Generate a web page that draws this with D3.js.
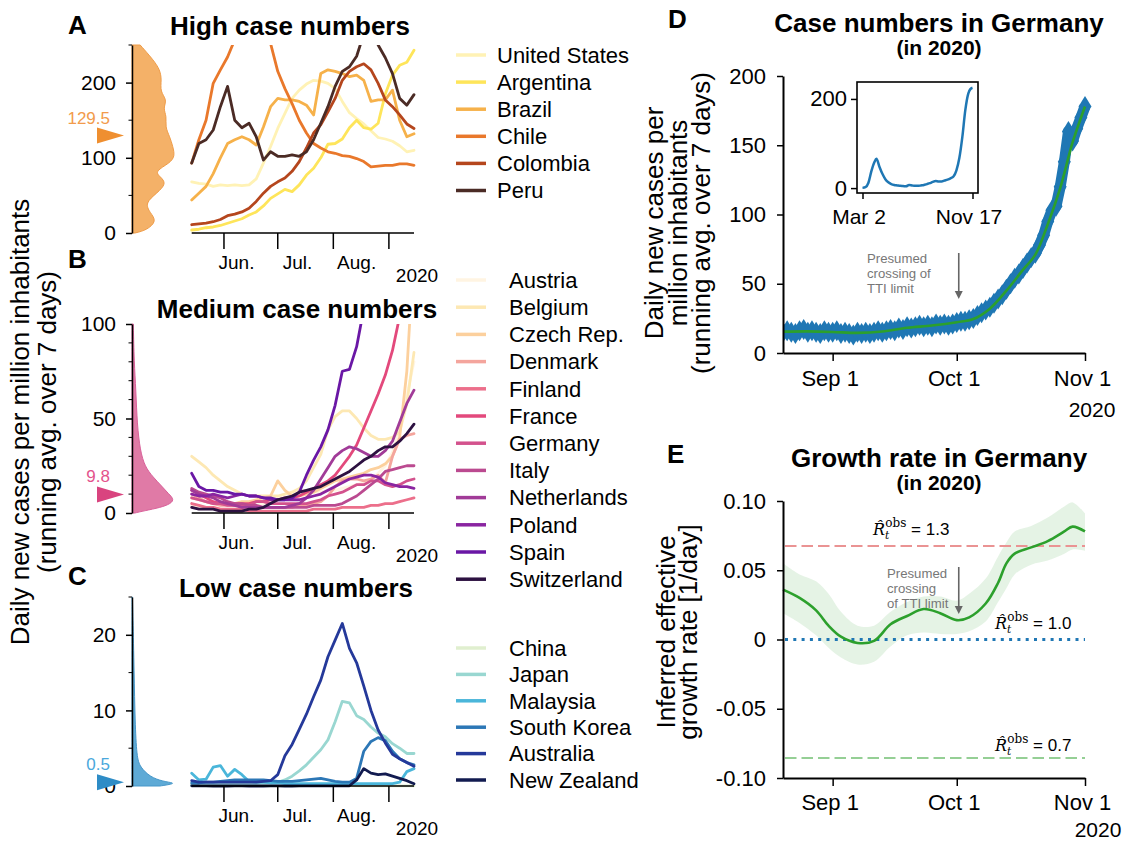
<!DOCTYPE html>
<html>
<head>
<meta charset="utf-8">
<script src="https://cdn.jsdelivr.net/npm/d3@7/dist/d3.min.js"></script>
<style>
html,body{margin:0;padding:0;background:#fff;}
svg{display:block;}
</style>
</head>
<body>
<svg id="chart" width="1125" height="842"></svg>
<script>
// ======================= DATA =======================
// Panels A-C: dates (every 4 days), 2020
const lineDates = ["2020-05-14","2020-05-18","2020-05-22","2020-05-26","2020-05-30","2020-06-03","2020-06-07","2020-06-11","2020-06-15","2020-06-19","2020-06-23","2020-06-27","2020-07-01","2020-07-05","2020-07-09","2020-07-13","2020-07-17","2020-07-21","2020-07-25","2020-07-29","2020-08-02","2020-08-06","2020-08-10","2020-08-14","2020-08-18","2020-08-22","2020-08-26","2020-08-30","2020-09-03","2020-09-07","2020-09-11","2020-09-15"];
const monthTickDates = ["2020-06-01","2020-07-01","2020-08-01","2020-09-01"];
const monthLabels = ["Jun.","Jul.","Aug."];
const monthLabelDates = ["2020-06-08","2020-07-12","2020-08-14"];

const highCountries = ["United States","Argentina","Brazil","Chile","Colombia","Peru"];
const highColors = ["#fff2b5","#fee55a","#f6b14a","#e9782b","#b5461d","#4b2b25"];
const highValues = [
  [68,66,65,62,64,63,64,63,64,72,93,115,139,159,179,190,198,203,202,199,192,175,160,152,145,136,127,125,122,116,108,110],
  [4,5,7,8,10,13,16,19,24,28,36,46,52,58,55,64,77,86,100,118,119,125,140,150,140,138,146,185,210,223,227,243],
  [44,53,62,79,100,119,124,128,124,117,141,168,179,177,177,175,170,157,212,217,215,212,208,210,203,175,177,177,190,150,128,132],
  [93,124,150,199,217,234,257,290,320,320,290,252,215,192,172,150,133,119,113,108,106,103,102,99,95,88,89,90,90,92,92,90],
  [11,12,13,15,18,23,25,28,33,42,53,62,68,73,82,95,113,133,144,161,179,203,215,221,225,217,199,177,168,157,145,139],
  [93,119,124,137,168,195,150,140,146,128,97,108,102,102,104,102,108,124,146,168,195,215,221,235,265,280,250,233,212,179,170,184]
];
const highDensityValues = [0,4,16,27,40,53,66,75,82,93,102,115,128,141,155,166,177,188,204,217,230,250];
const highDensityLevels = [0.07,0.35,0.58,0.42,0.3,0.58,0.81,0.65,0.53,0.88,1.0,0.95,0.88,0.77,0.81,0.72,0.82,0.65,0.69,0.65,0.5,0.19];
const highMedian = 129.5;

const mediumCountries = ["Austria","Belgium","Czech Rep.","Denmark","Finland","France","Germany","Italy","Netherlands","Poland","Spain","Switzerland"];
const mediumColors = ["#fff4e2","#fde8b3","#fcd09d","#f4a59d","#ec6f8b","#e3497c","#d3528d","#bb4a90","#a13b98","#8a25a1","#6a17a5","#2d1141"];
const mediumValues = [
  [4,3,3,3,2,2,2,3,3,4,5,6,8,10,11,12,12,11,11,12,12,13,14,15,16,18,21,25,32,45,62,80],
  [30,27,24,20,17,14,12,10,9,9,9,9,9,10,11,13,17,24,31,44,51,54,54,50,45,41,39,39,40,43,58,85],
  [8,7,6,5,5,5,5,6,6,7,8,9,17,12,9,9,10,11,13,15,17,18,19,20,21,23,24,26,30,40,75,140],
  [10,8,6,5,4,4,4,4,3,3,3,3,3,3,3,4,4,5,6,9,14,17,18,18,17,18,20,16,30,39,41,42],
  [5,4,3,3,2,2,2,2,1,1,1,1,1,1,1,1,1,2,2,2,2,3,3,3,3,4,4,5,5,6,7,8],
  [12,10,8,6,5,5,5,5,5,6,6,7,7,8,8,9,11,13,15,17,20,25,30,36,45,54,63,73,86,104,125,150],
  [8,7,6,5,5,4,4,4,4,6,6,5,5,5,5,5,5,6,7,9,10,11,13,15,15,17,17,15,14,15,17,18],
  [13,11,10,9,8,6,5,5,4,4,3,3,3,3,3,3,3,4,4,4,4,5,7,9,12,15,18,22,23,24,25,25],
  [12,10,9,8,6,5,4,3,3,3,3,3,3,3,4,5,8,12,18,24,30,33,35,34,32,30,30,33,38,48,58,65],
  [10,9,9,10,9,8,9,10,9,9,8,7,7,7,7,7,8,9,10,12,14,16,18,19,20,20,19,16,15,14,14,13],
  [21,14,12,12,11,11,10,10,9,9,8,8,7,7,8,11,20,28,35,44,57,75,76,88,108,118,128,135,140,150,155,160],
  [3,2,2,2,1,1,1,1,2,2,3,5,7,8,9,11,12,13,14,16,18,20,22,25,28,30,33,35,35,38,42,47]
];
const mediumDensityValues = [0,0.7,2.5,4.2,6.9,10.4,14,19,24.5,33,47,65,80,100];
const mediumDensityLevels = [0.07,0.19,0.58,0.84,1.0,0.84,0.7,0.49,0.3,0.19,0.12,0.09,0.05,0.03];
const mediumMedian = 9.8;

const lowCountries = ["China","Japan","Malaysia","South Korea","Australia","New Zealand"];
const lowColors = ["#e0efcf","#99d7d1","#4ab6da","#2c77b6","#25399a","#121b50"];
const lowValues = [
  [0.05,0.04,0.03,0.03,0.02,0.02,0.02,0.03,0.04,0.05,0.04,0.03,0.02,0.02,0.02,0.03,0.05,0.07,0.08,0.08,0.07,0.06,0.04,0.03,0.03,0.02,0.02,0.02,0.02,0.02,0.02,0.02],
  [0.2,0.2,0.2,0.2,0.3,0.3,0.3,0.3,0.3,0.3,0.4,0.4,0.5,0.8,1.3,2.0,2.8,3.8,4.8,6.1,8.5,11.2,11.0,9.3,8.8,7.8,7.0,6.5,5.6,5.0,4.3,4.3],
  [1.7,0.8,0.9,2.5,2.7,1.3,2.2,1.5,0.6,0.5,0.5,0.4,0.4,0.3,0.3,0.3,0.3,0.3,0.3,0.3,0.3,0.3,0.3,0.3,0.3,0.3,0.3,0.3,0.3,0.5,1.9,2.3],
  [0.4,0.4,0.5,0.5,0.6,0.7,0.8,0.8,0.8,0.8,0.8,0.7,0.6,0.6,0.6,0.7,0.8,0.9,1.0,0.8,0.6,0.5,0.5,1.0,4.6,5.9,6.4,6.0,4.6,3.6,3.1,2.8],
  [0.7,0.5,0.5,0.5,0.5,0.5,0.5,0.5,0.5,0.5,0.6,0.7,1.5,4.0,5.5,7.5,9.5,11.8,14.0,17.1,19.3,21.5,18.2,16.3,13.2,10.0,7.4,5.7,4.2,3.6,3.1,2.6],
  [0.02,0.01,0.01,0,0,0,0.01,0.01,0,0,0,0.01,0.01,0,0,0.01,0.01,0.02,0.02,0.01,0.02,0.02,0.03,0.8,2.3,1.7,1.5,1.6,1.3,1.0,0.7,0.3]
];
const lowDensityValues = [0,0.2,0.4,0.6,1.2,2.5,3.8,8.6,15,22.8,25];
const lowDensityLevels = [0.65,0.88,1.0,0.72,0.42,0.19,0.11,0.07,0.05,0.02,0.01];
const lowMedian = 0.5;

// Panel D: daily cases Germany (per million, 7-day avg), Aug 20 - Nov 1 2020
const germanyDailyStart = "2020-08-20";
const germanyDaily = [15,16,15,14,16,17,15,16,15,14,16,15,
  15,16,14,15,14,13,15,14,15,14,15,16,15,16,17,16,18,17,19,18,19,20,19,20,19,21,20,21,20,21,
  22,23,23,24,25,27,29,31,33,36,39,42,46,50,54,57,61,65,69,72,78,85,95,103,106,120,138,160,153,162,170,
  178];
const germanySmoothDates = ["2020-08-20","2020-08-26","2020-09-01","2020-09-07","2020-09-13","2020-09-19","2020-09-25","2020-10-01","2020-10-05","2020-10-09","2020-10-13","2020-10-17","2020-10-20","2020-10-23","2020-10-26","2020-10-29","2020-11-01"];
const germanySmooth = [15.4,15.6,15.2,14.5,15.5,18.2,19.8,22.2,24.5,32,45,60,71,93,119,152,178];
const dTickDates = ["2020-09-01","2020-10-01","2020-11-01"];
const dTickLabels = ["Sep 1","Oct 1","Nov 1"];

// Inset: whole year
const insetDates = ["2020-03-02","2020-03-09","2020-03-16","2020-03-23","2020-03-30","2020-04-04","2020-04-11","2020-04-18","2020-04-25","2020-05-02","2020-05-09","2020-05-16","2020-05-23","2020-05-30","2020-06-06","2020-06-13","2020-06-20","2020-06-27","2020-07-04","2020-07-11","2020-07-18","2020-07-25","2020-08-01","2020-08-08","2020-08-15","2020-08-22","2020-08-29","2020-09-05","2020-09-12","2020-09-19","2020-09-26","2020-10-03","2020-10-10","2020-10-17","2020-10-24","2020-10-31","2020-11-07","2020-11-12","2020-11-17"];
const insetValues = [0.5,2,12,38,58,66,48,32,20,13,9,7,6,5,4.5,4,7,6,5,5,6,7,9,11,14,16,15,15,17,19,22,26,40,68,115,175,212,222,225];
const insetTickDates = ["2020-03-02","2020-11-17"];
const insetTickLabels = ["Mar 2","Nov 17"];

// Panel E: growth rate
const growthDates = ["2020-08-20","2020-08-24","2020-08-28","2020-08-31","2020-09-03","2020-09-07","2020-09-11","2020-09-15","2020-09-19","2020-09-23","2020-09-27","2020-10-01","2020-10-04","2020-10-08","2020-10-11","2020-10-13","2020-10-15","2020-10-19","2020-10-23","2020-10-27","2020-10-29","2020-11-01"];
const growthMid  = [0.036,0.030,0.021,0.010,0.002,-0.0025,-0.001,0.011,0.017,0.022,0.019,0.014,0.016,0.026,0.041,0.055,0.062,0.0665,0.071,0.078,0.0815,0.078];
const growthLow  = [0.019,0.012,0.003,-0.006,-0.013,-0.018,-0.016,-0.005,0.003,0.005,0.004,0.004,0.006,0.013,0.027,0.037,0.047,0.054,0.057,0.062,0.065,0.064];
const growthHigh = [0.055,0.047,0.042,0.033,0.020,0.010,0.010,0.020,0.027,0.031,0.031,0.028,0.033,0.044,0.060,0.070,0.078,0.082,0.088,0.096,0.099,0.091];
const rLevels = ["1.3","1.0","0.7"];
const rLevelRates = [0.0675, 0, -0.0855];
const eTicks = [-0.1,-0.05,0,0.05,0.1];
const ttiDate = "2020-10-01";

// ======================= DRAWING =======================
const parse = d3.timeParse("%Y-%m-%d");
const svg = d3.select("#chart");
const FONT = "'Liberation Sans', Arial, Helvetica, sans-serif";
svg.append("rect").attr("width",1125).attr("height",842).attr("fill","#fff");

function txt(x, y, s, o) {
  o = o || {};
  return svg.append("text").attr("x",x).attr("y",y).text(s)
    .attr("font-family", o.family || FONT)
    .attr("font-size", o.size || 20)
    .attr("font-weight", o.weight || "normal")
    .attr("fill", o.fill || "#000")
    .attr("text-anchor", o.anchor || "start");
}
function vlabel(x, y, lines, step, size) {
  const t = svg.append("text").attr("transform",`translate(${x},${y}) rotate(-90)`)
    .attr("text-anchor","middle").attr("font-family",FONT).attr("font-size",size).attr("fill","#000");
  lines.forEach((l,i)=>{ t.append("tspan").attr("x",0).attr("dy", i===0 ? 0 : step).text(l); });
  return t;
}
function styleAxis(ax, size, domainW) {
  ax.select(".domain").attr("stroke","#000").attr("stroke-width",domainW);
  ax.selectAll(".tick line").attr("stroke","#000").attr("stroke-width",1.5);
  ax.selectAll(".tick text").attr("font-family",FONT).attr("font-size",size).attr("fill","#000");
}

// ---------- Panels A-C ----------
const xLine = d3.scaleTime().domain([parse("2020-05-14"), parse("2020-09-15")]).range([191.7, 414]);
const lDates = lineDates.map(parse);

const groups = [
  {letter:"A", letterY:34, title:"High case numbers", titleX:290, titleY:35,
   names:highCountries, colors:highColors, values:highValues,
   yDomain:[0,250], yRange:[233,45], major:[0,100,200], minor:[50,150,250],
   dv:highDensityValues, dl:highDensityLevels, fill:"#f4b168", stroke:"#ef9c48",
   median:highMedian, medColor:"#ef8f30", medLabelColor:"#f29b4b", medLabel:"129.5",
   legX:497, legY0:55, legStep:27.1},
  {letter:"B", letterY:268, title:"Medium case numbers", titleX:297, titleY:318,
   names:mediumCountries, colors:mediumColors, values:mediumValues,
   yDomain:[0,100], yRange:[513,324], major:[0,50,100], minor:[10,20,30,40,60,70,80,90],
   dv:mediumDensityValues, dl:mediumDensityLevels, fill:"#e07aa6", stroke:"#d9609a",
   median:mediumMedian, medColor:"#d9447f", medLabelColor:"#e3538c", medLabel:"9.8",
   legX:509, legY0:280, legStep:27.2},
  {letter:"C", letterY:585, title:"Low case numbers", titleX:296, titleY:597,
   names:lowCountries, colors:lowColors, values:lowValues,
   yDomain:[0,25], yRange:[786,597], major:[0,10,20], minor:[5,15,25],
   dv:lowDensityValues, dl:lowDensityLevels, fill:"#5eaad6", stroke:"#4797c9",
   median:lowMedian, medColor:"#2e8cc6", medLabelColor:"#4aa8dc", medLabel:"0.5",
   legX:509, legY0:648, legStep:26.4}
];

groups.forEach((g, gi) => {
  const y = d3.scaleLinear().domain(g.yDomain).range(g.yRange);
  const y0 = g.yRange[0], yTop = g.yRange[1];

  const dxs = d3.scaleLinear().domain([0,1]).range([132,175]);
  const pts = g.dv.map((v,i)=>[v, g.dl[i]]);
  const area = d3.area().curve(d3.curveBasis).y(d=>y(d[0])).x0(132).x1(d=>dxs(d[1]));
  svg.append("path").attr("d", area(pts)).attr("fill", g.fill).attr("stroke", g.stroke).attr("stroke-width",1);

  const ax = svg.append("g").attr("transform","translate(132,0)")
    .call(d3.axisLeft(y).tickValues(g.major).tickSize(6).tickPadding(10).tickSizeOuter(0));
  styleAxis(ax, 21, 1.5);
  svg.append("g").selectAll("line").data(g.minor).join("line")
    .attr("x1",128.5).attr("x2",132).attr("y1",d=>y(d)).attr("y2",d=>y(d))
    .attr("stroke","#000").attr("stroke-width",1);

  const my = y(g.median);
  svg.append("path").attr("d",`M97,${my-8}L124,${my}L97,${my+8}Z`).attr("fill",g.medColor);
  txt(110, my-12, g.medLabel, {size:17, fill:g.medLabelColor, anchor:"end"});

  const cid = "clipL"+gi;
  svg.append("clipPath").attr("id",cid).append("rect")
    .attr("x",190).attr("y",yTop).attr("width",226).attr("height",y0-yTop+3);
  const line = d3.line().x((d,i)=>xLine(lDates[i])).y(d=>y(d));
  const lg = svg.append("g").attr("clip-path",`url(#${cid})`);
  g.values.forEach((vals,i)=>{
    lg.append("path").attr("d",line(vals)).attr("fill","none")
      .attr("stroke",g.colors[i]).attr("stroke-width",2.8)
      .attr("stroke-linejoin","round").attr("stroke-linecap","round");
  });

  svg.append("line").attr("x1",191.7).attr("x2",414).attr("y1",y0).attr("y2",y0)
    .attr("stroke","#000").attr("stroke-width",1.5);
  monthTickDates.forEach(d=>{
    const xx = xLine(parse(d));
    svg.append("line").attr("x1",xx).attr("x2",xx).attr("y1",y0).attr("y2",y0+16)
      .attr("stroke","#000").attr("stroke-width",1.5);
  });
  monthLabels.forEach((m,i)=>{
    txt(xLine(parse(monthLabelDates[i])), y0+36, m, {size:19, anchor:"middle"});
  });
  txt(417, y0+49, "2020", {size:19, anchor:"middle"});

  txt(g.titleX, g.titleY, g.title, {size:26, weight:"bold", anchor:"middle"});
  txt(68, g.letterY, g.letter, {size:26, weight:"bold"});

  g.names.forEach((n,i)=>{
    const ly = g.legY0 + i*g.legStep;
    svg.append("line").attr("x1",456).attr("x2",486).attr("y1",ly).attr("y2",ly)
      .attr("stroke",g.colors[i]).attr("stroke-width",3.5);
    txt(g.legX, ly+7.8, n, {size:22});
  });
});

vlabel(29, 422, ["Daily new cases per million inhabitants","(running avg. over 7 days)"], 27, 26);

// ---------- Panel D ----------
const xDE = d3.scaleTime().domain([parse("2020-08-20"), parse("2020-11-01")]).range([783,1085]);
const yD = d3.scaleLinear().domain([0,200]).range([353,76]);
const dailyDates = d3.timeDay.range(parse(germanyDailyStart), d3.timeDay.offset(parse(germanyDailyStart), germanyDaily.length));

svg.append("clipPath").attr("id","clipD").append("rect").attr("x",784).attr("y",60).attr("width",320).attr("height",292);
const dg = svg.append("g").attr("clip-path","url(#clipD)");
dg.append("path").attr("d", d3.line().x((d,i)=>xDE(dailyDates[i])).y(d=>yD(d))(germanyDaily))
  .attr("fill","none").attr("stroke","#1f77b4").attr("stroke-width",11).attr("stroke-linejoin","round");
dg.selectAll("path.dm").data(germanyDaily).join("path").attr("class","dm")
  .attr("d",(d,i)=>{const cx=xDE(dailyDates[i]), cy=yD(d); return `M${cx},${cy-10.5}L${cx+6.5},${cy}L${cx},${cy+10.5}L${cx-6.5},${cy}Z`;})
  .attr("fill","#1f77b4");
dg.append("path").attr("d", d3.line().curve(d3.curveCatmullRom).x((d,i)=>xDE(parse(germanySmoothDates[i]))).y(d=>yD(d))(germanySmooth))
  .attr("fill","none").attr("stroke","#2ca02c").attr("stroke-width",2.6);

const axDL = svg.append("g").attr("transform","translate(783,0)")
  .call(d3.axisLeft(yD).tickValues([0,50,100,150,200]).tickSize(6).tickPadding(11).tickSizeOuter(0));
styleAxis(axDL, 22, 2);
const axDB = svg.append("g").attr("transform","translate(0,353)")
  .call(d3.axisBottom(xDE).tickValues(dTickDates.map(parse)).tickFormat((d,i)=>dTickLabels[i]).tickSize(8).tickPadding(9).tickSizeOuter(0));
styleAxis(axDB, 22, 2);
axDB.selectAll(".tick text").attr("dx",-3);
txt(1092, 417, "2020", {size:21, anchor:"middle"});

txt(939, 32, "Case numbers in Germany", {size:26, weight:"bold", anchor:"middle"});
txt(939, 55, "(in 2020)", {size:21, weight:"bold", anchor:"middle"});
txt(668, 28, "D", {size:26, weight:"bold"});
vlabel(663, 223, ["Daily new cases per","million inhabitants","(running avg. over 7 days)"], 23.5, 26);

function arrow(x, y1, y2) {
  svg.append("line").attr("x1",x).attr("x2",x).attr("y1",y1).attr("y2",y2-7)
    .attr("stroke","#666").attr("stroke-width",1.6);
  svg.append("path").attr("d",`M${x-4},${y2-8}L${x+4},${y2-8}L${x},${y2}Z`).attr("fill","#666");
}
const ttiX = xDE(parse(ttiDate)) + 2;
const annD = ["Presumed","crossing of","TTI limit"];
annD.forEach((s,i)=>txt(867, 263 + i*15, s, {size:13.2, fill:"#777"}));
arrow(ttiX, 253, 299);

// Inset
const xIn = d3.scaleTime().domain([parse("2020-02-18"), parse("2020-11-30")]).range([857,978]);
const yIn = d3.scaleLinear().domain([-11,238]).range([193,82]);
svg.append("rect").attr("x",857).attr("y",82).attr("width",121).attr("height",111)
  .attr("fill","#fff").attr("stroke","#000").attr("stroke-width",1.6);
svg.append("path").attr("d", d3.line().curve(d3.curveMonotoneX).x((d,i)=>xIn(parse(insetDates[i]))).y(d=>yIn(d))(insetValues))
  .attr("fill","none").attr("stroke","#1f77b4").attr("stroke-width",2.5);
const axIL = svg.append("g").attr("transform","translate(857,0)")
  .call(d3.axisLeft(yIn).tickValues([0,200]).tickSize(6).tickPadding(4).tickSizeOuter(0));
styleAxis(axIL, 22, 0);
axIL.select(".domain").remove();
const axIB = svg.append("g").attr("transform","translate(0,193)")
  .call(d3.axisBottom(xIn).tickValues(insetTickDates.map(parse)).tickFormat((d,i)=>insetTickLabels[i]).tickSize(6).tickPadding(10).tickSizeOuter(0));
styleAxis(axIB, 21, 0);
axIB.select(".domain").remove();
axIB.selectAll(".tick text").attr("dx",-4);

// ---------- Panel E ----------
const yE = d3.scaleLinear().domain([-0.1,0.1]).range([778,501]);
const gDates = growthDates.map(parse);
svg.append("path").attr("d", d3.area().curve(d3.curveCatmullRom).x((d,i)=>xDE(gDates[i])).y0((d,i)=>yE(growthLow[i])).y1(d=>yE(d))(growthHigh))
  .attr("fill","#2ca02c").attr("fill-opacity",0.12);
const hStyles = [
  {color:"#ea9393", dash:"11.5,5", w:2},
  {color:"#1f77b4", dash:"3,5.3", w:3},
  {color:"#95cf95", dash:"11.5,5", w:2}
];
rLevelRates.forEach((r,i)=>{
  svg.append("line").attr("x1",785).attr("x2",1085).attr("y1",yE(r)).attr("y2",yE(r))
    .attr("stroke",hStyles[i].color).attr("stroke-width",hStyles[i].w).attr("stroke-dasharray",hStyles[i].dash);
});
svg.append("path").attr("d", d3.line().curve(d3.curveCatmullRom).x((d,i)=>xDE(gDates[i])).y(d=>yE(d))(growthMid))
  .attr("fill","none").attr("stroke","#2ca02c").attr("stroke-width",2.6);

function rLabel(x, y, val) {
  const t = svg.append("text").attr("x",x).attr("y",y).attr("fill","#000").attr("font-size",17);
  t.append("tspan").attr("font-family","'DejaVu Serif', serif").attr("font-style","italic").attr("font-size",16).text("R\u0302");
  t.append("tspan").attr("font-family","'DejaVu Serif', serif").attr("font-style","italic").attr("font-size",10.5).attr("dy",4).text("t");
  t.append("tspan").attr("font-family","'DejaVu Serif', serif").attr("font-size",12).attr("dx",-4).attr("dy",-12).text("obs");
  t.append("tspan").attr("font-family",FONT).attr("font-size",17).attr("dy",8).text(" = " + val);
}
rLabel(873, yE(rLevelRates[0]) - 11, rLevels[0]);
rLabel(995, yE(rLevelRates[1]) - 10.5, rLevels[1]);
rLabel(995, yE(rLevelRates[2]) - 7, rLevels[2]);

const axEL = svg.append("g").attr("transform","translate(783,0)")
  .call(d3.axisLeft(yE).tickValues(eTicks).tickSize(6).tickPadding(11).tickSizeOuter(0)
    .tickFormat(d => d === 0 ? "0" : (d < 0 ? "-" : "") + Math.abs(d).toFixed(2)));
styleAxis(axEL, 22, 2);
const axEB = svg.append("g").attr("transform","translate(0,778)")
  .call(d3.axisBottom(xDE).tickValues(dTickDates.map(parse)).tickFormat((d,i)=>dTickLabels[i]).tickSize(8).tickPadding(8).tickSizeOuter(0));
styleAxis(axEB, 22, 2);
axEB.selectAll(".tick text").attr("dx",-3);
txt(1098, 837, "2020", {size:21, anchor:"middle"});

txt(939, 467, "Growth rate in Germany", {size:26, weight:"bold", anchor:"middle"});
txt(939, 490, "(in 2020)", {size:21, weight:"bold", anchor:"middle"});
txt(667, 463, "E", {size:26, weight:"bold"});
vlabel(675, 632, ["Inferred effective","growth rate [1/day]"], 22, 26);

const annE = ["Presumed","crossing","of TTI limit"];
annE.forEach((s,i)=>txt(887, 578 + i*15, s, {size:13.2, fill:"#777"}));
arrow(ttiX, 567, 614);
</script>
</body>
</html>
